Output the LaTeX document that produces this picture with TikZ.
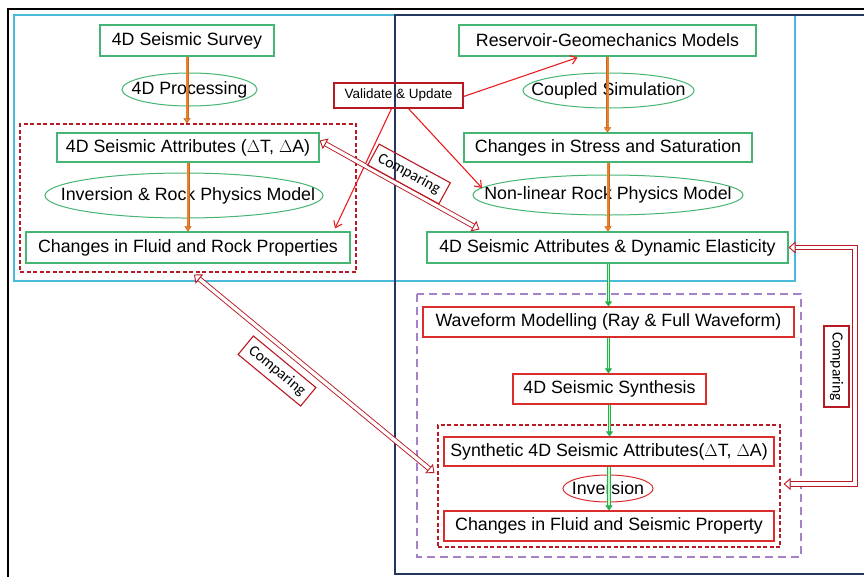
\documentclass[tikz,border=0pt]{standalone}
\usepackage{fontspec}
\setmainfont{Liberation Sans}
\newfontfamily\calib{Carlito}
\usetikzlibrary{arrows.meta,shapes.geometric,calc}
\definecolor{gboxc}{RGB}{70,180,115}
\definecolor{rboxc}{RGB}{220,45,45}
\definecolor{dredc}{RGB}{185,25,35}
\definecolor{brred}{RGB}{235,30,30}
\definecolor{cyanc}{RGB}{75,185,220}
\definecolor{navyc}{RGB}{35,55,95}
\definecolor{purpc}{RGB}{165,130,200}
\definecolor{orgc}{RGB}{235,130,40}
\definecolor{orgd}{RGB}{200,100,30}
\definecolor{grnar}{RGB}{40,175,80}
\begin{document}
\begin{tikzpicture}[x=1pt,y=-1pt,
  txt/.style={font=\fontsize{17.8}{20}\selectfont, inner sep=0pt, text=black},
  gbox/.style={txt, draw=gboxc, line width=1.1pt},
  rbox/.style={txt, draw=rboxc, line width=1.1pt},
  gell/.style={draw=gboxc, line width=1pt},
  rell/.style={draw=rboxc, line width=1pt},
  dashbox/.style={draw=dredc, line width=1.1pt, dash pattern=on 4pt off 2.5pt, inner sep=0pt},
  valbox/.style={draw=dredc, line width=1.2pt, font=\fontsize{13.5}{15}\selectfont, inner sep=0pt},
  cmpbox/.style={draw=dredc, line width=1.1pt, font=\calib\fontsize{15.5}{17}\selectfont, inner sep=0pt, minimum width=81pt, minimum height=24pt},
  orgarrow/.style={draw=orgd, double=orgc, double distance=2pt, line width=0.5pt, -{Triangle[length=5pt,width=7pt,fill=orgc]}},
  grnarrow/.style={draw=grnar, double=green!25, double distance=1.8pt, line width=0.8pt, -{Triangle[length=5pt,width=7pt,fill=grnar]}},
  valarrow/.style={draw=brred, line width=1.1pt, -{Straight Barb[length=6pt,width=9pt]}},
  cmpline/.style={draw=dredc, line width=0.9pt, double=white, double distance=3.4pt},
  cmphead/.style={draw=dredc, line width=0.9pt, -{Triangle[open,length=7pt,width=12pt,fill=white]}}
]
\useasboundingbox (0,0) rectangle (864,576);
\clip (0,0) rectangle (864,576);
\fill[white] (0,0) rectangle (864,576);
% frames
\draw[black, line width=2.2pt] (8,9) rectangle (900,600);
\draw[cyanc, line width=1.3pt] (14,15) rectangle (795,281);
\draw[navyc, line width=1.6pt] (395,15) rectangle (900,574);
\draw[purpc, line width=1.5pt, dash pattern=on 8pt off 5pt] (417,294) rectangle (801,557);

% left column
\node[dashbox, minimum width=336pt, minimum height=148pt] (dashL) at (188,198) {};
\node[gbox, minimum width=174pt, minimum height=31pt] (survey) at (187,40.5) {4D Seismic Survey};
\node[txt] (proc) at (189.5,89.5) {4D Processing};
\draw[gell] (proc.center) ellipse [x radius=67.5, y radius=16.5];
\node[gbox, minimum width=262pt, minimum height=29pt] (attr) at (188,147.5) {4D Seismic Attributes (\(\Delta\)T, \(\Delta\)A)};
\node[txt] (invrp) at (188,195.5) {Inversion \& Rock Physics Model};
\draw[gell] (184,195.5) ellipse [x radius=139, y radius=22.5];
\node[gbox, minimum width=324pt, minimum height=31pt] (fluid) at (188,247.5) {Changes in Fluid and Rock Properties};

% right column
\node[gbox, minimum width=297pt, minimum height=31pt] (res) at (607.5,40.5) {Reservoir-Geomechanics Models};
\node[txt] (coup) at (608.5,90.5) {Coupled Simulation};
\draw[gell] (coup.center) ellipse [x radius=85.5, y radius=17.5];
\node[gbox, minimum width=288pt, minimum height=29pt] (stress) at (608,147.5) {Changes in Stress and Saturation};
\node[txt] (nonlin) at (608,195) {Non-linear Rock Physics Model};
\draw[gell] (nonlin.center) ellipse [x radius=135, y radius=20];
\node[gbox, minimum width=361pt, minimum height=31pt] (elast) at (607.5,247.5) {4D Seismic Attributes \& Dynamic Elasticity};

% bottom
\node[dashbox, minimum width=342pt, minimum height=122pt] (rdash) at (609,486) {};
\node[rbox, minimum width=371pt, minimum height=30pt] (wave) at (608.5,322) {Waveform Modelling (Ray \& Full Waveform)};
\node[rbox, minimum width=193pt, minimum height=30pt] (synth) at (609.5,389) {4D Seismic Synthesis};
\node[rbox, minimum width=330pt, minimum height=29pt] (synattr) at (609,451.5) {Synthetic 4D Seismic Attributes(\(\Delta\)T, \(\Delta\)A)};
\node[txt] (inv) at (608,488.5) {Inversion};
\draw[rell] (inv.center) ellipse [x radius=45, y radius=13.5];
\node[rbox, minimum width=330pt, minimum height=30pt] (fseis) at (609,526) {Changes in Fluid and Seismic Property};

% validate
\node[valbox, minimum width=129pt, minimum height=25pt] (val) at (398.5,95.5) {Validate \& Update};

% orange arrows
\draw[orgarrow] (survey.south) -- (survey.south |- dashL.north);
\draw[orgarrow] (attr.south) -- (attr.south |- fluid.north);
\draw[orgarrow] (res.south) -- (res.south |- stress.north);
\draw[orgarrow] (stress.south) -- (stress.south |- elast.north);
% green arrows
\draw[grnarrow] ([xshift=1pt]elast.south) -- ([xshift=1pt]elast.south |- wave.north);
\draw[grnarrow] (wave.south) -- (wave.south |- synth.north);
\draw[grnarrow] (synth.south) -- (synth.south |- synattr.north);
\draw[grnarrow] (synattr.south) -- (synattr.south |- fseis.north);

% validate arrows
\draw[valarrow] ([yshift=-1pt]val.east) -- ([xshift=-30pt,yshift=-1pt]res.south);
\draw[valarrow] ([xshift=10pt]val.south) -- ([xshift=-126pt,yshift=7pt]nonlin.center);
\draw[valarrow] ([xshift=-7pt]val.south) -- ([xshift=147pt,yshift=3pt]fluid.north);

% comparing arrow 1
\coordinate (a1) at ([yshift=7pt]attr.east);
\coordinate (b1) at ([xshift=53pt,yshift=2pt]elast.north west);
\draw[cmpline] ($(a1)!6.5pt!(b1)$) -- ($(b1)!6.5pt!(a1)$);
\draw[cmphead] ($(a1)!7pt!(b1)$) -- (a1);
\draw[cmphead] ($(b1)!7pt!(a1)$) -- (b1);
\node[cmpbox, rotate=-28.5] (c1) at (409,174) {Comparing};
% comparing arrow 2
\coordinate (a2) at ([xshift=6pt,yshift=-2pt]dashL.south);
\coordinate (b2) at ([xshift=-3pt,yshift=13pt]rdash.west);
\draw[cmpline] ($(a2)!6.5pt!(b2)$) -- ($(b2)!6.5pt!(a2)$);
\draw[cmphead] ($(a2)!7pt!(b2)$) -- (a2);
\draw[cmphead] ($(b2)!7pt!(a2)$) -- (b2);
\node[cmpbox, rotate=-39.5] (c2) at (277,371) {Comparing};
% comparing arrow 3
\coordinate (a3) at (elast.east);
\coordinate (rc) at (855,247.5);
\coordinate (b3) at ([xshift=3pt,yshift=2pt]rdash.east);
\draw[cmpline] ([xshift=6.5pt]a3) -- (rc) |- ([xshift=6.5pt]b3);
\draw[cmphead] ([xshift=7pt]a3) -- (a3);
\draw[cmphead] ([xshift=7pt]b3) -- (b3);
\node[cmpbox, rotate=-90, minimum height=25pt] (c3) at (836.5,366.5) {Comparing};
\end{tikzpicture}
\end{document}
